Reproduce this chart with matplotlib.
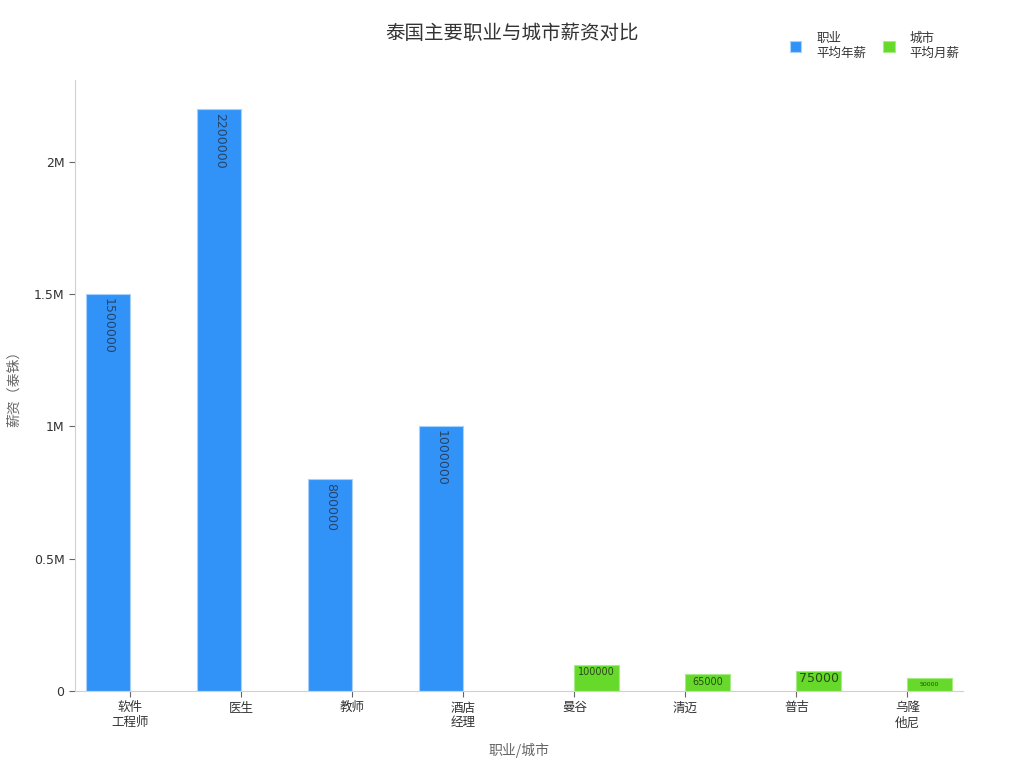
import matplotlib
matplotlib.use("Agg")
import matplotlib.pyplot as plt
import numpy as np

plt.rcParams['font.family'] = ['Noto Sans CJK SC', 'DejaVu Sans']

# data
categories = ['软件\n工程师', '医生', '教师', '酒店\n经理', '曼谷', '清迈', '普吉', '乌隆\n他尼']
job_salary = [1500000, 2200000, 800000, 1000000, None, None, None, None]
city_salary = [None, None, None, None, 100000, 65000, 75000, 50000]
city_label_sizes = [7, 7, 9, 4.5]
city_label_pos = [0.72, 0.5, 0.65, 0.5]  # fraction of bar height

blue = '#3193F8'
green = '#66D92A'
text_c = '#333333'

fig = plt.figure(figsize=(10.24, 7.68), dpi=100)
ax = fig.add_axes([0.0732, 0.1003, 0.8672, 0.7957])

x = np.arange(len(categories))
w = 0.4

job_x = [xi - w / 2 for xi, v in zip(x, job_salary) if v is not None]
job_v = [v for v in job_salary if v is not None]
city_x = [xi + w / 2 for xi, v in zip(x, city_salary) if v is not None]
city_v = [v for v in city_salary if v is not None]

bars1 = ax.bar(job_x, job_v, width=w, color=blue, edgecolor='#a8d0fb', linewidth=0.8,
               label='职业\n平均年薪')
bars2 = ax.bar(city_x, city_v, width=w, color=green, edgecolor='#a6ec86', linewidth=0.8,
               label='城市\n平均月薪')

for b, v in zip(bars1, job_v):
    ax.text(b.get_x() + b.get_width() / 2, v - 15000, str(v), rotation=-90,
            ha='center', va='top', fontsize=9, color='#2a4466', family='DejaVu Sans')

for b, v, fs, p in zip(bars2, city_v, city_label_sizes, city_label_pos):
    ax.text(b.get_x() + b.get_width() / 2, v * p, str(v),
            ha='center', va='center', fontsize=fs, color='#2a4a1a', family='DejaVu Sans')

ax.set_xlim(-0.5, 7.5)
ax.set_ylim(0, 2310000)
ax.set_xticks(x)
ax.set_xticklabels(categories, fontsize=9, color=text_c, linespacing=1.2)
ax.set_yticks([0, 500000, 1000000, 1500000, 2000000])
ax.set_yticklabels(['0', '0.5M', '1M', '1.5M', '2M'], fontsize=9, color=text_c,
                   family='DejaVu Sans')

for s in ['top', 'right']:
    ax.spines[s].set_visible(False)
for s in ['left', 'bottom']:
    ax.spines[s].set_color('#d0d0d0')
ax.tick_params(axis='both', colors='#666666', length=4)
ax.tick_params(axis='x', labelcolor=text_c)
ax.tick_params(axis='y', labelcolor=text_c)

ax.set_xlabel('职业/城市', fontsize=10, color='#666666', labelpad=10)
ax.set_ylabel('薪资（泰铢）', fontsize=10, color='#666666')
ax.yaxis.set_label_coords(-0.061, 0.5)

fig.text(0.5, 0.957, '泰国主要职业与城市薪资对比', ha='center', va='center',
         fontsize=14, color=text_c)

fig.legend(loc='upper right', bbox_to_anchor=(0.948, 0.973), ncol=2, frameon=False,
           fontsize=9, handlelength=0.9, handleheight=0.9, columnspacing=1.35,
           handletextpad=1.2, labelcolor=text_c)

fig.savefig('out.png', dpi=100)
